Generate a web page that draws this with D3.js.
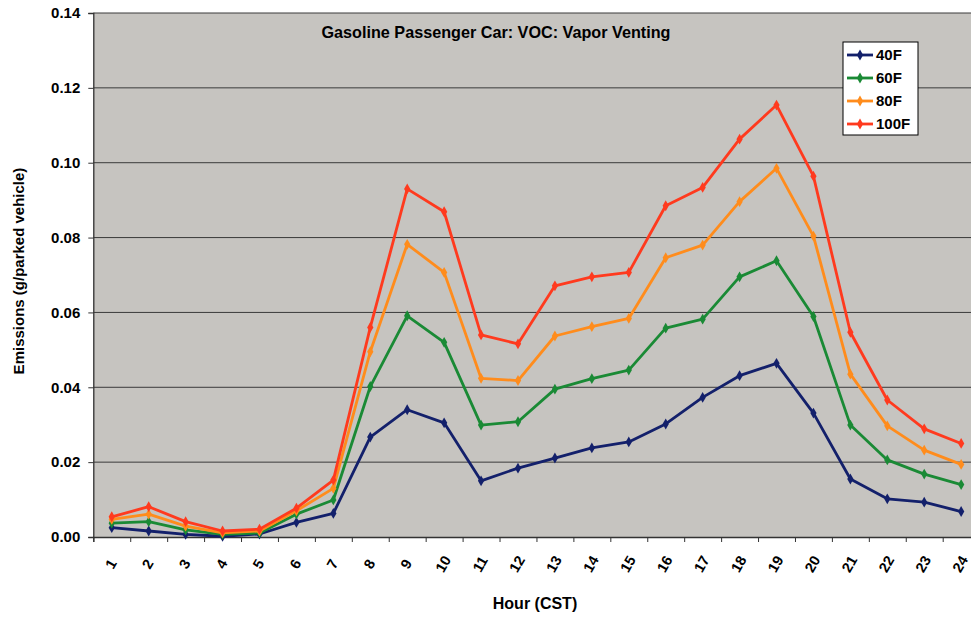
<!DOCTYPE html>
<html lang="en">
<head>
<meta charset="UTF-8">
<title>Vapor Venting</title>
<script src="https://d3js.org/d3.v7.min.js"></script>
<style>
  body { margin: 0; background: #fff; }
  text { font-family: "Liberation Sans", Arial, sans-serif; font-weight: bold; fill: #000; }
</style>
</head>
<body>
<div id="chart"></div>
<script>
    // data
    const hours = d3.range(1, 25).map(String);
    const seriesNames = ["40F", "60F", "80F", "100F"];
    const seriesColors = ["#13206b", "#1a8a35", "#ff8c1c", "#ff3a1e"];
    const v40 = [0.0025, 0.0016, 0.0007, 0.0002, 0.0008, 0.0039, 0.0063, 0.0267, 0.0340, 0.0305, 0.0150, 0.0184,
                 0.0211, 0.0238, 0.0254, 0.0302, 0.0373, 0.0431, 0.0464, 0.0331, 0.0155, 0.0102, 0.0093, 0.0068];
    const v60 = [0.0037, 0.0041, 0.0019, 0.0007, 0.0011, 0.0061, 0.0099, 0.0402, 0.0591, 0.0520, 0.0299, 0.0308,
                 0.0395, 0.0423, 0.0446, 0.0558, 0.0582, 0.0695, 0.0738, 0.0589, 0.0299, 0.0206, 0.0168, 0.0140];
    const v80 = [0.0047, 0.0061, 0.0029, 0.0011, 0.0016, 0.0070, 0.0130, 0.0495, 0.0782, 0.0707, 0.0424, 0.0418,
                 0.0537, 0.0562, 0.0584, 0.0746, 0.0780, 0.0896, 0.0985, 0.0804, 0.0435, 0.0297, 0.0232, 0.0194];
    const v100 = [0.0054, 0.0081, 0.0041, 0.0016, 0.0021, 0.0077, 0.0152, 0.0560, 0.0930, 0.0869, 0.0540, 0.0516,
                  0.0671, 0.0695, 0.0707, 0.0885, 0.0934, 0.1063, 0.1154, 0.0964, 0.0547, 0.0366, 0.0289, 0.0250];
    const yTicks = [0, 0.02, 0.04, 0.06, 0.08, 0.10, 0.12, 0.14];

    const title = "Gasoline Passenger Car: VOC: Vapor Venting";
    const xTitle = "Hour (CST)";
    const yTitle = "Emissions (g/parked vehicle)";

    const width = 971, height = 618;
    const plotLeft = 93.3, plotTop = 13, plotBottom = 537;
    const band = 36.93;
    const plotRight = plotLeft + band * hours.length;   // runs past the picture edge, as in the original

    const svg = d3.select("#chart").append("svg")
        .attr("width", width)
        .attr("height", height);

    const x = d3.scaleBand().domain(hours).range([plotLeft, plotRight]);
    const xEdges = d3.scaleLinear().domain([0, hours.length]).range([plotLeft, plotRight]);
    const y = d3.scaleLinear().domain([0, 0.14]).range([plotBottom, plotTop]);

    // plot background
    svg.append("rect")
        .attr("x", plotLeft).attr("y", plotTop)
        .attr("width", plotRight - plotLeft).attr("height", plotBottom - plotTop)
        .attr("fill", "#c6c4c0");

    // gridlines
    svg.append("g").selectAll("line")
        .data(yTicks.slice(1))
        .join("line")
        .attr("x1", plotLeft).attr("x2", plotRight)
        .attr("y1", d => y(d)).attr("y2", d => y(d))
        .attr("stroke", "#3a3a3a").attr("stroke-width", 1);

    // y axis
    const yAxis = svg.append("g")
        .attr("transform", `translate(${plotLeft},0)`)
        .call(d3.axisLeft(y).tickValues(yTicks).tickFormat(d3.format(".2f")).tickSize(5).tickPadding(8));
    yAxis.select(".domain").attr("stroke", "#333").attr("stroke-width", 1.3);
    yAxis.selectAll(".tick line").attr("stroke", "#333");
    yAxis.selectAll("text").style("font-size", "15px").style("font-family", "Liberation Sans, Arial, sans-serif").style("font-weight", "bold");

    // x axis: tick marks at category edges
    const xAxisTicks = svg.append("g")
        .attr("transform", `translate(0,${plotBottom})`)
        .call(d3.axisBottom(xEdges).tickValues(d3.range(hours.length + 1)).tickFormat("").tickSize(5));
    xAxisTicks.select(".domain").attr("stroke", "#333").attr("stroke-width", 1.3);
    xAxisTicks.selectAll(".tick line").attr("stroke", "#333");

    // x labels, rotated
    svg.append("g").selectAll("text")
        .data(hours)
        .join("text")
        .attr("transform", d => `translate(${x(d) + x.bandwidth() / 2 - 1},${plotBottom + 27}) rotate(-60)`)
        .attr("text-anchor", "middle")
        .attr("dy", "0.35em")
        .style("font-size", "14.5px")
        .text(d => d);

    // series
    const allSeries = [v40, v60, v80, v100].map((vals, i) => ({
        name: seriesNames[i], color: seriesColors[i],
        points: vals.map((v, j) => ({ hour: hours[j], value: v }))
    }));

    const line = d3.line()
        .x(d => x(d.hour) + x.bandwidth() / 2)
        .y(d => y(d.value));

    const diamond = d3.symbol().type(d3.symbolDiamond).size(34);

    const seriesG = svg.append("g").selectAll("g")
        .data(allSeries)
        .join("g");

    seriesG.append("path")
        .attr("d", d => line(d.points))
        .attr("fill", "none")
        .attr("stroke", d => d.color)
        .attr("stroke-width", 2.8)
        .attr("stroke-linejoin", "round");

    seriesG.each(function (s) {
        d3.select(this).selectAll("path.mark")
            .data(s.points)
            .join("path")
            .attr("class", "mark")
            .attr("transform", d => `translate(${x(d.hour) + x.bandwidth() / 2},${y(d.value)})`)
            .attr("d", diamond)
            .attr("fill", s.color);
    });

    // title
    svg.append("text")
        .attr("x", 496).attr("y", 38)
        .attr("text-anchor", "middle")
        .style("font-size", "16.2px")
        .text(title);

    // axis titles
    svg.append("text")
        .attr("x", 535).attr("y", 609)
        .attr("text-anchor", "middle")
        .style("font-size", "16px")
        .text(xTitle);

    svg.append("text")
        .attr("transform", "translate(24,271) rotate(-90)")
        .attr("text-anchor", "middle")
        .style("font-size", "15px")
        .text(yTitle);

    // legend
    const legend = svg.append("g").attr("transform", "translate(843,42)");
    legend.append("rect")
        .attr("width", 75).attr("height", 93)
        .attr("fill", "#fff").attr("stroke", "#000").attr("stroke-width", 1);

    const legendItems = legend.selectAll("g.item")
        .data(allSeries)
        .join("g")
        .attr("class", "item")
        .attr("transform", (d, i) => `translate(0,${13 + i * 23})`);
    legendItems.append("line")
        .attr("x1", 4).attr("x2", 30)
        .attr("stroke", d => d.color).attr("stroke-width", 2.8);
    legendItems.append("path")
        .attr("transform", "translate(17,0)")
        .attr("d", diamond)
        .attr("fill", d => d.color);
    legendItems.append("text")
        .attr("x", 33).attr("dy", "0.36em")
        .style("font-size", "15px")
        .text(d => d.name);
</script>
</body>
</html>
